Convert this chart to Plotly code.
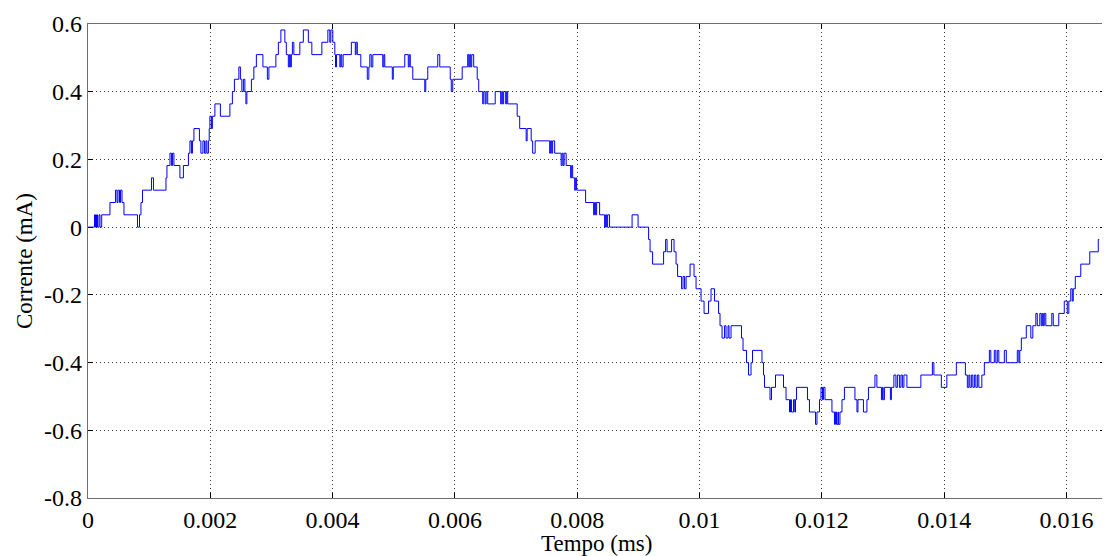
import plotly.graph_objects as go

# Time of each level change, in microseconds
time_us = [0, 106, 123, 139, 155, 180, 196, 224, 359, 449, 474, 490, 515, 531, 556, 588,
           809, 842, 866, 891, 1038, 1070, 1275, 1291, 1340, 1364, 1381, 1405, 1503, 1560,
           1642, 1667, 1691, 1708, 1732, 1822, 1846, 1879, 1904, 1928, 1944, 1969, 1982, 1993,
           2018, 2034, 2075, 2165, 2320, 2361, 2394, 2467, 2492, 2516, 2541, 2565, 2582, 2598,
           2672, 2712, 2753, 2860, 2933, 2958, 3072, 3113, 3154, 3219, 3243, 3276, 3293, 3309,
           3325, 3342, 3366, 3464, 3521, 3603, 3660, 3824, 3922, 3954, 3971, 4003, 4036, 4047,
           4064, 4118, 4134, 4150, 4172, 4306, 4371, 4384, 4404, 4461, 4567, 4592, 4608, 4632,
           4657, 4820, 4837, 4853, 4976, 4992, 5180, 5237, 5253, 5270, 5311, 5507, 5523, 5556,
           5719, 5752, 5923, 5940, 5964, 6119, 6209, 6226, 6242, 6258, 6275, 6307, 6364, 6389,
           6454, 6471, 6495, 6511, 6536, 6659, 6748, 6765, 6781, 6797, 6830, 6846, 6863, 7018,
           7059, 7165, 7181, 7247, 7271, 7312, 7549, 7565, 7582, 7598, 7631, 7737, 7753, 7770,
           7786, 7819, 7892, 7909, 7925, 7958, 7974, 7990, 8137, 8268, 8284, 8301, 8317, 8366,
           8448, 8464, 8481, 8497, 8529, 8897, 8995, 9167, 9191, 9232, 9412, 9445, 9469, 9543,
           9583, 9616, 9641, 9706, 9730, 9755, 9780, 9845, 9910, 9943, 10025, 10074, 10147,
           10188, 10245, 10311, 10335, 10368, 10409, 10433, 10466, 10482, 10515, 10686, 10711,
           10768, 10801, 10842, 10866, 11021, 11046, 11062, 11152, 11177, 11242, 11373, 11414,
           11471, 11487, 11503, 11536, 11557, 11569, 11585, 11765, 11797, 11896, 11920, 11961,
           11985, 12010, 12026, 12051, 12165, 12206, 12222, 12239, 12263, 12271, 12296, 12329,
           12369, 12541, 12574, 12590, 12680, 12737, 12762, 12868, 12900, 12974, 12990, 13002,
           13023, 13121, 13137, 13178, 13211, 13235, 13268, 13293, 13317, 13342, 13391, 13619,
           13807, 13832, 13954, 14044, 14199, 14347, 14379, 14404, 14420, 14445, 14469, 14494,
           14518, 14543, 14567, 14616, 14657, 14739, 14763, 14820, 14845, 14869, 14894, 14984,
           15016, 15196, 15221, 15237, 15262, 15343, 15417, 15450, 15499, 15523, 15564, 15588,
           15605, 15621, 15637, 15662, 15760, 15784, 15874, 15964, 16013, 16038, 16070, 16095,
           16111, 16144, 16234, 16381, 16520, 16536]

# Quantized current level (ADC code) starting at each time above
codes = [0, 1, 0, 1, 0, 1, 0, 1, 2, 3, 2, 3, 2, 3, 2, 1,
         0, 1, 2, 3, 4, 3, 4, 5, 6, 5, 6, 5, 4, 5,
         6, 7, 6, 7, 8, 7, 6, 7, 6, 7, 6, 7, 8, 9,
         8, 9, 10, 9, 10, 11, 12, 13, 12, 11, 12, 11, 10, 11,
         12, 13, 14, 13, 12, 13, 14, 15, 16, 15, 14, 13, 14, 13,
         14, 15, 14, 15, 16, 15, 14, 15, 16, 15, 16, 15, 14, 13,
         14, 13, 14, 13, 14, 15, 14, 15, 14, 13, 12, 13, 14, 13,
         14, 13, 14, 13, 12, 13, 14, 13, 14, 13, 12, 11, 12, 13,
         14, 13, 12, 11, 12, 13, 14, 13, 14, 13, 14, 13, 12, 11,
         10, 11, 10, 11, 10, 11, 10, 11, 10, 11, 10, 11, 10, 9,
         8, 7, 8, 7, 6, 7, 6, 7, 6, 7, 6, 5, 6, 5,
         6, 5, 4, 5, 4, 3, 4, 3, 2, 1, 2, 1, 2, 1,
         0, 1, 0, 1, 0, 1, 0, -1, -2, -3, -2, -1, -2, -1,
         -2, -3, -4, -5, -4, -5, -4, -3, -4, -5, -6, -7, -6,
         -5, -6, -7, -8, -9, -8, -9, -8, -9, -8, -9, -10,
         -11, -12, -11, -10, -11, -12, -13, -14, -13, -12, -13, -14,
         -15, -14, -15, -14, -15, -14, -13, -14, -15, -16, -15, -14,
         -13, -14, -13, -14, -15, -16, -15, -16, -15, -16, -15, -14,
         -13, -14, -15, -14, -15, -14, -13, -12, -13, -14, -13, -14,
         -13, -14, -13, -12, -13, -12, -13, -12, -13, -12, -13, -12,
         -11, -12, -13, -12, -11, -12, -13, -12, -13, -12, -13, -12,
         -13, -12, -13, -12, -11, -10, -11, -10, -11, -10, -11, -10,
         -11, -10, -11, -10, -9, -8, -9, -8, -7, -8, -7, -8,
         -7, -8, -7, -8, -7, -8, -7, -6, -7, -6, -5, -6,
         -5, -4, -3, -2, -1, -1]

lsb_mA = 0.0364  # current per ADC code, mA

x_ticks = [0, 0.002, 0.004, 0.006, 0.008, 0.01, 0.012, 0.014, 0.016]
x_labels = ["0", "0.002", "0.004", "0.006", "0.008", "0.01", "0.012", "0.014", "0.016"]
y_ticks = [0.6, 0.4, 0.2, 0, -0.2, -0.4, -0.6, -0.8]
y_labels = ["0.6", "0.4", "0.2", "0", "-0.2", "-0.4", "-0.6", "-0.8"]
x_title = "Tempo (ms)"
y_title = "Corrente (mA)"

t = [v / 1e6 for v in time_us]
i_mA = [c * lsb_mA for c in codes]

fig = go.Figure()
fig.add_trace(go.Scatter(x=t, y=i_mA, mode="lines", line=dict(color="#0000ff", width=1, shape="hv"),
                         showlegend=False))

tick_font = dict(family="Liberation Serif, Times New Roman, serif", size=24, color="black")
title_font = dict(family="Liberation Serif, Times New Roman, serif", size=23, color="black")
axis_common = dict(showline=True, linecolor="#6e6e6e", linewidth=1.2, mirror="ticks",
                   ticks="inside", ticklen=5, tickcolor="black", tickwidth=1,
                   showgrid=True, gridcolor="#3a3a3a", griddash="1px,3px", gridwidth=1,
                   zeroline=False, tickfont=tick_font, automargin=False)

# page has an 8px body margin, so the figure is sized/offset to compensate
fig.update_layout(
    width=1102, height=548,
    margin=dict(l=80, r=5, t=16, b=58),
    paper_bgcolor="white", plot_bgcolor="white",
    font=title_font,
    xaxis=dict(range=[0, 0.01663], tickvals=x_ticks, ticktext=x_labels, ticklabelstandoff=0,
               **axis_common),
    yaxis=dict(range=[-0.8, 0.6], tickvals=y_ticks, ticktext=y_labels, ticklabelstandoff=0,
               title=dict(text=y_title, font=title_font, standoff=5), **axis_common),
    annotations=[dict(text=x_title, x=0.5, y=0, xref="paper", yref="paper",
                      xanchor="center", yanchor="top", yshift=-32, showarrow=False,
                      font=title_font, borderpad=0)],
)

fig.write_html("out.html")
